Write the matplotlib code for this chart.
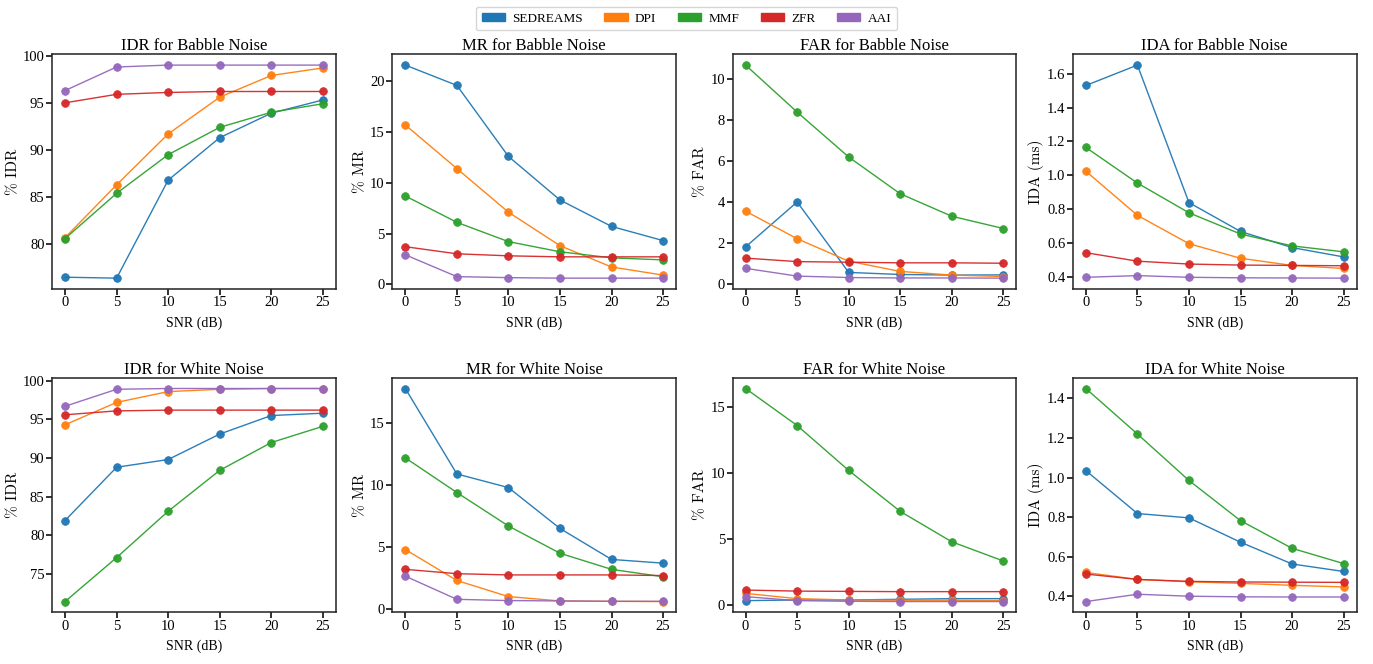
import matplotlib
matplotlib.use("Agg")
import matplotlib.pyplot as plt
import matplotlib.patches as mpatches
from matplotlib.ticker import MaxNLocator

snr = [0, 5, 10, 15, 20, 25]
methods = ["SEDREAMS", "DPI", "MMF", "ZFR", "AAI"]
colors = ["#1f77b4", "#ff7f0e", "#2ca02c", "#d62728", "#9467bd"]

# babble noise
idr_babble = {
    "SEDREAMS": [76.5, 76.4, 86.8, 91.3, 93.9, 95.3],
    "DPI": [80.7, 86.3, 91.7, 95.6, 97.9, 98.7],
    "MMF": [80.6, 85.4, 89.5, 92.4, 94.0, 94.9],
    "ZFR": [95.0, 95.9, 96.1, 96.2, 96.2, 96.2],
    "AAI": [96.3, 98.8, 99.0, 99.0, 99.0, 99.0],
}
mr_babble = {
    "SEDREAMS": [21.6, 19.6, 12.6, 8.3, 5.7, 4.3],
    "DPI": [15.7, 11.4, 7.1, 3.8, 1.7, 0.9],
    "MMF": [8.7, 6.1, 4.2, 3.2, 2.6, 2.4],
    "ZFR": [3.7, 3.0, 2.8, 2.7, 2.7, 2.7],
    "AAI": [2.9, 0.75, 0.65, 0.6, 0.6, 0.6],
}
far_babble = {
    "SEDREAMS": [1.8, 4.0, 0.55, 0.45, 0.42, 0.43],
    "DPI": [3.55, 2.2, 1.1, 0.6, 0.42, 0.35],
    "MMF": [10.7, 8.4, 6.2, 4.4, 3.3, 2.7],
    "ZFR": [1.25, 1.08, 1.05, 1.02, 1.02, 1.0],
    "AAI": [0.75, 0.37, 0.3, 0.28, 0.28, 0.27],
}
ida_babble = {
    "SEDREAMS": [1.53, 1.65, 0.84, 0.67, 0.575, 0.52],
    "DPI": [1.025, 0.765, 0.598, 0.512, 0.47, 0.452],
    "MMF": [1.165, 0.955, 0.78, 0.655, 0.585, 0.55],
    "ZFR": [0.545, 0.495, 0.478, 0.472, 0.47, 0.468],
    "AAI": [0.4, 0.41, 0.4, 0.397, 0.396, 0.395],
}

# white noise
idr_white = {
    "SEDREAMS": [81.9, 88.8, 89.8, 93.1, 95.5, 95.8],
    "DPI": [94.3, 97.2, 98.6, 98.9, 99.0, 99.0],
    "MMF": [71.4, 77.1, 83.1, 88.4, 92.0, 94.1],
    "ZFR": [95.6, 96.1, 96.2, 96.2, 96.2, 96.2],
    "AAI": [96.7, 98.9, 99.0, 99.0, 99.0, 99.0],
}
mr_white = {
    "SEDREAMS": [17.8, 10.9, 9.8, 6.5, 4.0, 3.7],
    "DPI": [4.8, 2.3, 1.0, 0.65, 0.62, 0.6],
    "MMF": [12.2, 9.4, 6.7, 4.5, 3.2, 2.6],
    "ZFR": [3.2, 2.85, 2.75, 2.75, 2.75, 2.7],
    "AAI": [2.65, 0.78, 0.68, 0.65, 0.62, 0.62],
}
far_white = {
    "SEDREAMS": [0.35, 0.4, 0.4, 0.45, 0.5, 0.5],
    "DPI": [0.9, 0.5, 0.4, 0.38, 0.38, 0.35],
    "MMF": [16.4, 13.6, 10.2, 7.1, 4.8, 3.35],
    "ZFR": [1.15, 1.07, 1.05, 1.03, 1.03, 1.03],
    "AAI": [0.65, 0.35, 0.3, 0.28, 0.28, 0.28],
}
ida_white = {
    "SEDREAMS": [1.035, 0.818, 0.796, 0.673, 0.563, 0.525],
    "DPI": [0.52, 0.485, 0.473, 0.465, 0.455, 0.447],
    "MMF": [1.45, 1.22, 0.985, 0.782, 0.642, 0.565],
    "ZFR": [0.512, 0.485, 0.475, 0.472, 0.471, 0.47],
    "AAI": [0.373, 0.41, 0.4, 0.397, 0.396, 0.396],
}

panels = [
    [(idr_babble, "IDR for Babble Noise", "% IDR"),
     (mr_babble, "MR for Babble Noise", "% MR"),
     (far_babble, "FAR for Babble Noise", "% FAR"),
     (ida_babble, "IDA for Babble Noise", "IDA (ms)")],
    [(idr_white, "IDR for White Noise", "% IDR"),
     (mr_white, "MR for White Noise", "% MR"),
     (far_white, "FAR for White Noise", "% FAR"),
     (ida_white, "IDA for White Noise", "IDA (ms)")],
]

serif = "Liberation Serif"

fig, axes = plt.subplots(2, 4, figsize=(13.73, 6.64), dpi=100)
fig.subplots_adjust(left=0.038, right=0.988, top=0.918, bottom=0.078,
                    wspace=0.2, hspace=0.38)

for r in range(2):
    for c in range(4):
        ax = axes[r, c]
        data, title, ylabel = panels[r][c]
        for m, col in zip(methods, colors):
            ax.plot(snr, data[m], color=col, lw=1.0, marker="o", ms=5.5,
                    mec=col, mew=0.6, alpha=0.95)
        ax.set_title(title, fontsize=12, pad=3, family=serif)
        ax.set_xlabel("SNR (dB)", fontsize=10, family=serif, labelpad=5)
        ax.set_ylabel(ylabel, fontsize=11, family="cmr10", labelpad=2)
        ax.set_xticks(snr)
        ax.yaxis.set_major_locator(MaxNLocator("auto", steps=[1, 2, 5, 10]))
        ax.tick_params(direction="out", length=4, width=1.3, pad=1.5,
                       labelsize=10.5, color="#222222")
        for lab in ax.get_xticklabels() + ax.get_yticklabels():
            lab.set_family(serif)
        for sp in ax.spines.values():
            sp.set_color("#222222")
            sp.set_linewidth(1.1)

handles = [mpatches.Patch(color=col, label=m) for m, col in zip(methods, colors)]
fig.legend(handles=handles, loc="upper center", ncol=5, bbox_to_anchor=(0.5, 1.0),
           prop=dict(family=serif, size=9.5),
           handlelength=1.75, handleheight=0.55, handletextpad=0.55,
           columnspacing=1.65, frameon=True, edgecolor="#cccccc",
           borderpad=0.45)

fig.savefig("out.png", dpi=100)
